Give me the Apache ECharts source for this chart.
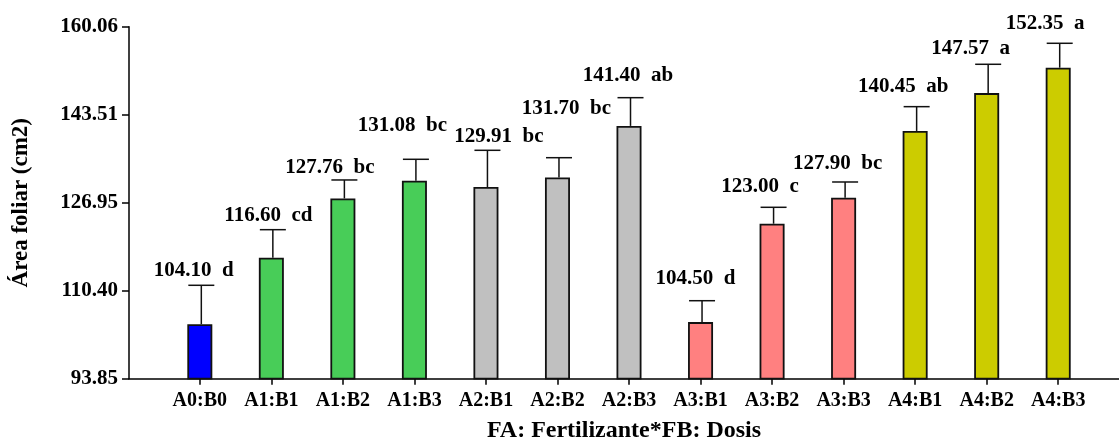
<!DOCTYPE html>
<html>
<head>
<meta charset="utf-8">
<script src="https://cdn.jsdelivr.net/npm/echarts@6/dist/echarts.min.js"></script>
<style>html,body{margin:0;padding:0;background:#fff}#c{width:1119px;height:439px}</style>
</head>
<body>
<div id="c"></div>
<script>
// ---- data ----
const categories = ['A0:B0','A1:B1','A1:B2','A1:B3','A2:B1','A2:B2','A2:B3','A3:B1','A3:B2','A3:B3','A4:B1','A4:B2','A4:B3'];
const means = [104.10,116.60,127.76,131.08,129.91,131.70,141.40,104.50,123.00,127.90,140.45,147.57,152.35];
const errors = [7.32,5.28,3.47,4.04,6.90,3.72,5.31,4.02,3.09,2.95,4.57,5.42,4.59];
const letters = ['d','cd','bc','bc','bc','bc','ab','d','c','bc','ab','a','a'];
const yTickLabels = ['93.85','110.40','126.95','143.51','160.06'];

// ---- layout / style ----
const groupColor = ['#0000FF','#48CD58','#48CD58','#48CD58','#C0C0C0','#C0C0C0','#C0C0C0','#FF8080','#FF8080','#FF8080','#CCCC00','#CCCC00','#CCCC00'];
const labelDx = [-6,-3,-13,-12,13,9,-1,-5,-12,-6,-12,-16,-13];
const labelDy = [15,14,12,34,14,49,22,22,21,18,20,16,20];
const FONT = '"Liberation Serif","Times New Roman",serif';

const yTicks = yTickLabels.map(Number);
const yMin = yTicks[0], yMax = yTicks[yTicks.length-1];

const chart = echarts.init(document.getElementById('c'));
chart.setOption({
  animation: false,
  backgroundColor: '#fff',
  grid: {left: 129, right: 0, top: 26.7, bottom: 60.3, containLabel: false, outerBoundsMode: 'none'},
  xAxis: {
    type: 'value', min: -0.99, max: 12.85,
    axisLine: {show: true, onZero: false, lineStyle: {color: '#000', width: 1.5}},
    axisTick: {show: true, length: 6, lineStyle: {color: '#000', width: 1.5}, customValues: categories.map((c,i)=>i)},
    axisLabel: {customValues: categories.map((c,i)=>i), formatter: v => categories[Math.round(v)] || '',
      fontFamily: FONT, fontWeight: 'bold', fontSize: 20, color: '#000', margin: 12},
    splitLine: {show: false},
    name: 'FA: Fertilizante*FB: Dosis', nameLocation: 'middle', nameGap: 40,
    nameTextStyle: {fontFamily: FONT, fontWeight: 'bold', fontSize: 24, color: '#000'}
  },
  yAxis: {
    type: 'value', min: yMin, max: yMax,
    axisLine: {show: true, onZero: false, lineStyle: {color: '#000', width: 1.5}},
    axisTick: {show: true, length: 7, lineStyle: {color: '#000', width: 1.5}, customValues: yTicks},
    axisLabel: {customValues: yTicks, formatter: v => {
        let best = 0; yTicks.forEach((t,i)=>{ if (Math.abs(t-v) < Math.abs(yTicks[best]-v)) best = i; });
        return yTickLabels[best];
      }, fontFamily: FONT, fontWeight: 'bold', fontSize: 21, color: '#000', margin: 11},
    splitLine: {show: false},
    name: 'Área foliar (cm2)', nameLocation: 'middle', nameGap: 96, nameRotate: 90,
    nameTextStyle: {fontFamily: FONT, fontWeight: 'bold', fontSize: 23, color: '#000'}
  },
  series: [
    {
      type: 'bar', barWidth: 25, clip: true,
      data: means.map((v,i)=>({value: [i, v], itemStyle: {color: groupColor[i]}})),
      itemStyle: {borderColor: '#111', borderWidth: 1.8}
    },
    {
      type: 'custom', clip: false, z: 5,
      data: means.map((v,i)=>[i, v, errors[i]]),
      renderItem: (params, api) => {
        const i = api.value(0), m = api.value(1), e = api.value(2);
        const base = api.coord([i, m]);
        const top = api.coord([i, m + e]);
        const x = base[0] + 1.5;
        const half = 13;
        return {type: 'group', children: [
          {type: 'line', shape: {x1: x, y1: base[1], x2: x, y2: top[1]}, style: {stroke: '#111', lineWidth: 1.5}},
          {type: 'line', shape: {x1: x - half, y1: top[1], x2: x + half, y2: top[1]}, style: {stroke: '#111', lineWidth: 1.5}},
          {type: 'text', x: base[0] + labelDx[i], y: top[1] - labelDy[i],
            style: {text: m.toFixed(2) + '  ' + letters[i], fontFamily: FONT, fontWeight: 'bold', fontSize: 21,
              fill: '#000', align: 'center', verticalAlign: 'middle'}}
        ]};
      }
    }
  ]
});
</script>
</body>
</html>
